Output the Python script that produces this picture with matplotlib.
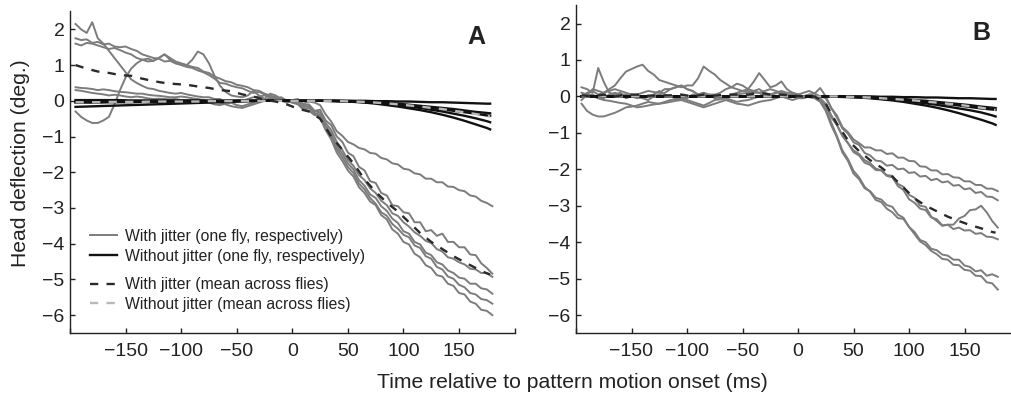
import matplotlib
matplotlib.use("Agg")
import matplotlib.pyplot as plt
from matplotlib.lines import Line2D

plt.rcParams['font.family'] = ['Liberation Sans', 'DejaVu Sans']

# ---------------- data ----------------
# single-fly traces sampled every 5 ms, smooth/mean curves every 10 ms
time_fine = list(range(-195, 181, 5))
time_coarse = list(range(-195, 176, 10)) + [178]

# Panel A: with jitter, one fly each
A_fly1 = [2.15, 2.0, 1.9, 2.2, 1.75, 1.6, 1.4, 1.2, 1.0, 0.8,
          0.6, 0.5, 0.42, 0.35, 0.33, 0.28, 0.25, 0.22, 0.2, 0.22,
          0.18, 0.15, 0.12, 0.1, 0.1, 0.05, 0.05, -0.05, -0.05, -0.12,
          -0.15, -0.1, -0.05, 0.05, 0.0, 0.08, 0.05, 0.1, 0.0, 0.02,
          0.0, -0.08, -0.02, -0.05, -0.12, -0.38, -0.58, -0.85, -0.98, -1.15,
          -1.22, -1.32, -1.36, -1.46, -1.48, -1.6, -1.64, -1.75, -1.78, -1.9,
          -1.93, -2.03, -2.06, -2.18, -2.18, -2.28, -2.28, -2.4, -2.41, -2.5,
          -2.53, -2.65, -2.68, -2.8, -2.86, -2.95]
A_fly2 = [1.75, 1.7, 1.72, 1.62, 1.65, 1.58, 1.6, 1.52, 1.5, 1.52,
          1.45, 1.4, 1.3, 1.25, 1.2, 1.18, 1.1, 1.12, 1.05, 1.02,
          1.0, 0.95, 0.92, 0.82, 0.78, 0.68, 0.62, 0.55, 0.52, 0.45,
          0.42, 0.38, 0.3, 0.28, 0.2, 0.15, 0.1, 0.08, 0.0, 0.02,
          0.05, -0.12, -0.1, -0.28, -0.25, -0.55, -0.68, -1.0, -1.15, -1.45,
          -1.55, -1.85, -1.95, -2.25, -2.3, -2.58, -2.65, -2.92, -2.95, -3.12,
          -3.15, -3.4, -3.4, -3.65, -3.62, -3.78, -3.72, -3.95, -3.95, -4.1,
          -4.1, -4.3, -4.32, -4.55, -4.68, -4.84]
A_fly3 = [1.6, 1.55, 1.62, 1.6, 1.55, 1.5, 1.45, 1.48, 1.42, 1.35,
          1.3, 1.2, 1.15, 1.1, 1.12, 1.2, 1.3, 1.15, 1.05, 1.0,
          0.95, 0.92, 0.85, 0.8, 0.72, 0.62, 0.5, 0.48, 0.42, 0.38,
          0.35, 0.28, 0.22, 0.25, 0.18, 0.1, 0.08, 0.0, -0.05, -0.02,
          -0.05, -0.18, -0.15, -0.3, -0.32, -0.62, -0.82, -1.15, -1.38, -1.65,
          -1.82, -2.08, -2.22, -2.45, -2.58, -2.8, -2.92, -3.15, -3.22, -3.4,
          -3.52, -3.68, -3.78, -3.92, -3.98, -4.15, -4.22, -4.38, -4.42, -4.52,
          -4.58, -4.7, -4.72, -4.82, -4.82, -4.93]
A_fly4 = [-0.3, -0.45, -0.55, -0.62, -0.62, -0.55, -0.45, -0.1, 0.3, 0.65,
          0.9, 1.05, 1.15, 1.18, 1.12, 1.2, 1.3, 1.2, 1.1, 1.05,
          1.0, 1.15, 1.38, 1.3, 1.05, 0.7, 0.42, 0.25, 0.15, 0.12,
          0.1, 0.15, 0.28, 0.15, 0.05, 0.2, 0.15, 0.05, 0.0, -0.05,
          -0.1, -0.25, -0.2, -0.35, -0.38, -0.7, -0.92, -1.28, -1.48, -1.75,
          -1.92, -2.22, -2.38, -2.62, -2.72, -2.95, -3.08, -3.3, -3.42, -3.65,
          -3.72, -3.95, -4.02, -4.25, -4.32, -4.52, -4.58, -4.75, -4.82, -4.95,
          -4.98, -5.12, -5.12, -5.25, -5.28, -5.4]
A_fly5 = [0.38, 0.36, 0.35, 0.33, 0.3, 0.32, 0.3, 0.27, 0.25, 0.24,
          0.22, 0.2, 0.2, 0.17, 0.15, 0.14, 0.12, 0.1, 0.1, 0.12,
          0.1, 0.07, 0.05, 0.02, 0.0, -0.02, -0.05, -0.1, -0.15, -0.18,
          -0.2, -0.15, -0.1, -0.05, 0.0, 0.05, 0.05, 0.02, 0.0, -0.05,
          -0.02, -0.22, -0.28, -0.4, -0.42, -0.72, -0.98, -1.35, -1.58, -1.85,
          -2.02, -2.32, -2.48, -2.72, -2.88, -3.12, -3.22, -3.45, -3.58, -3.75,
          -3.82, -4.05, -4.12, -4.35, -4.42, -4.65, -4.72, -4.92, -4.98, -5.15,
          -5.22, -5.38, -5.42, -5.55, -5.58, -5.68]
A_fly6 = [0.3, 0.28, 0.25, 0.22, 0.2, 0.18, 0.15, 0.17, 0.15, 0.12,
          0.1, 0.12, 0.1, 0.07, 0.05, 0.06, 0.05, 0.04, 0.05, 0.02,
          0.0, 0.0, 0.0, -0.03, -0.05, -0.1, -0.12, -0.08, -0.05, 0.0,
          0.0, 0.05, 0.1, 0.12, 0.15, 0.1, 0.05, 0.02, 0.0, 0.0,
          0.0, -0.12, -0.18, -0.35, -0.48, -0.82, -1.08, -1.45, -1.68, -1.95,
          -2.12, -2.42, -2.58, -2.82, -2.92, -3.2, -3.32, -3.6, -3.72, -3.95,
          -4.02, -4.28, -4.38, -4.6, -4.68, -4.88, -4.92, -5.12, -5.18, -5.38,
          -5.42, -5.62, -5.68, -5.85, -5.88, -6.0]

# Panel A: without jitter, one fly each (10 ms grid)
A_ctrl1 = [0.02, 0.02, 0.02, 0.02, 0.02, 0.01, 0.01, 0.01, 0.01, 0.01, 0.01, 0.01, 0.0, 0.0, 0.0, 0.0, 0.0, 0.0, 0.0, 0.0,
           0.0, 0.0, 0.0, 0.0, 0.0, 0.0, 0.0, -0.01, -0.01, -0.02, -0.02, -0.03, -0.04, -0.04, -0.05, -0.06, -0.07, -0.08, -0.08]
A_ctrl2 = [-0.03, -0.03, -0.03, -0.03, -0.02, -0.02, -0.02, -0.02, -0.02, -0.01, -0.01, -0.01, -0.01, -0.01, 0.0, 0.0, 0.0, 0.0, 0.0, 0.0,
           0.0, 0.0, 0.0, 0.0, 0.0, -0.01, -0.02, -0.04, -0.06, -0.08, -0.11, -0.14, -0.17, -0.2, -0.23, -0.27, -0.31, -0.34, -0.35]
A_ctrl3 = [-0.05, -0.05, -0.05, -0.04, -0.04, -0.04, -0.03, -0.03, -0.03, -0.02, -0.02, -0.02, -0.01, -0.01, -0.01, 0.0, 0.0, 0.0, 0.0, 0.0,
           0.0, 0.0, 0.0, 0.0, -0.01, -0.02, -0.03, -0.05, -0.07, -0.1, -0.13, -0.16, -0.2, -0.24, -0.28, -0.32, -0.36, -0.41, -0.42]
A_ctrl4 = [-0.01, -0.01, -0.01, -0.01, -0.01, -0.01, -0.01, -0.01, -0.01, -0.01, 0.0, 0.0, 0.0, 0.0, 0.0, 0.0, 0.0, 0.0, 0.0, 0.0,
           0.0, 0.0, 0.0, 0.0, -0.01, -0.02, -0.04, -0.06, -0.09, -0.12, -0.16, -0.2, -0.25, -0.3, -0.36, -0.42, -0.49, -0.57, -0.6]
A_ctrl5 = [-0.17, -0.16, -0.15, -0.14, -0.13, -0.12, -0.11, -0.1, -0.09, -0.08, -0.07, -0.06, -0.05, -0.04, -0.03, -0.02, -0.01, 0.0, 0.0, 0.0,
           0.0, 0.0, 0.0, -0.01, -0.02, -0.03, -0.05, -0.08, -0.12, -0.16, -0.21, -0.26, -0.32, -0.39, -0.47, -0.56, -0.66, -0.76, -0.8]
A_jitter_mean = [1.0, 0.9, 0.82, 0.78, 0.72, 0.7, 0.62, 0.55, 0.5, 0.47, 0.45, 0.4, 0.36, 0.3, 0.27, 0.18, 0.12, 0.03, -0.02, -0.1,
                 -0.22, -0.3, -0.5, -1.0, -1.37, -1.75, -2.2, -2.55, -2.85, -3.1, -3.4, -3.7, -3.95, -4.15, -4.35, -4.52, -4.68, -4.83, -4.86]
A_ctrl_mean = [-0.04, -0.04, -0.04, -0.03, -0.03, -0.03, -0.03, -0.02, -0.02, -0.02, -0.02, -0.02, -0.01, -0.01, -0.01, 0.0, 0.0, 0.0, 0.0, 0.0,
               0.0, 0.0, 0.0, 0.0, -0.01, -0.02, -0.03, -0.05, -0.07, -0.1, -0.13, -0.16, -0.2, -0.23, -0.28, -0.32, -0.37, -0.42, -0.44]

# Panel B: with jitter, one fly each
B_fly1 = [0.25, 0.2, 0.1, 0.78, 0.4, 0.1, 0.05, 0.1, -0.05, 0.0,
          0.05, 0.1, 0.15, 0.12, 0.1, 0.2, 0.2, 0.25, 0.3, 0.2,
          0.15, 0.05, 0.1, 0.0, 0.0, -0.05, -0.05, 0.05, 0.1, 0.15,
          0.2, 0.15, 0.1, 0.0, 0.05, 0.1, 0.1, 0.05, 0.0, 0.05,
          0.1, 0.15, 0.08, 0.23, 0.0, -0.32, -0.52, -0.84, -0.98, -1.18,
          -1.28, -1.4, -1.4, -1.48, -1.48, -1.58, -1.56, -1.68, -1.68, -1.77,
          -1.78, -1.92, -1.93, -2.03, -2.03, -2.14, -2.13, -2.22, -2.23, -2.33,
          -2.33, -2.43, -2.43, -2.53, -2.53, -2.6]
B_fly2 = [0.0, 0.1, 0.15, 0.05, 0.1, 0.2, 0.3, 0.5, 0.68, 0.75,
          0.82, 0.87, 0.7, 0.6, 0.45, 0.4, 0.35, 0.3, 0.25, 0.3,
          0.3, 0.5, 0.82, 0.7, 0.6, 0.45, 0.35, 0.25, 0.2, 0.15,
          0.15, 0.1, 0.1, 0.15, 0.2, 0.15, 0.1, 0.05, 0.05, 0.0,
          0.0, 0.05, 0.08, 0.0, -0.05, -0.32, -0.58, -0.88, -1.02, -1.26,
          -1.33, -1.55, -1.62, -1.76, -1.78, -1.9, -1.88, -2.0, -1.98, -2.1,
          -2.08, -2.2, -2.18, -2.3, -2.26, -2.36, -2.33, -2.45, -2.43, -2.55,
          -2.52, -2.65, -2.62, -2.75, -2.76, -2.85]
B_fly3 = [-0.1, 0.05, 0.2, 0.15, 0.1, 0.15, 0.2, 0.15, 0.1, 0.05,
          0.0, -0.05, -0.1, 0.0, 0.05, 0.1, 0.2, 0.25, 0.3, 0.2,
          0.15, 0.05, 0.0, 0.05, 0.05, 0.1, 0.2, 0.25, 0.35, 0.3,
          0.2, 0.4, 0.64, 0.45, 0.25, 0.3, 0.41, 0.2, 0.1, 0.05,
          0.0, 0.05, 0.0, -0.05, -0.2, -0.52, -0.78, -1.08, -1.28, -1.53,
          -1.62, -1.82, -1.88, -2.02, -2.03, -2.16, -2.18, -2.4, -2.48, -2.7,
          -2.78, -3.0, -3.03, -3.3, -3.42, -3.55, -3.52, -3.52, -3.35, -3.28,
          -3.12, -3.1, -3.0, -3.18, -3.42, -3.6]
B_fly4 = [-0.2, -0.4, -0.5, -0.55, -0.55, -0.5, -0.45, -0.38, -0.3, -0.28,
          -0.25, -0.2, -0.15, -0.18, -0.2, -0.15, -0.1, -0.08, -0.05, -0.1,
          -0.15, -0.2, -0.25, -0.18, -0.1, -0.08, -0.05, -0.1, -0.15, -0.12,
          -0.1, -0.05, 0.0, 0.02, 0.05, 0.02, 0.0, -0.05, -0.1, -0.05,
          -0.05, 0.0, 0.0, -0.1, -0.25, -0.58, -0.78, -1.08, -1.28, -1.48,
          -1.58, -1.75, -1.83, -1.98, -2.03, -2.18, -2.22, -2.46, -2.57, -2.82,
          -2.92, -3.08, -3.12, -3.32, -3.37, -3.54, -3.52, -3.64, -3.6, -3.68,
          -3.67, -3.77, -3.75, -3.85, -3.86, -3.92]
B_fly5 = [0.1, 0.05, 0.0, -0.05, -0.1, -0.12, -0.15, -0.18, -0.2, -0.25,
          -0.3, -0.28, -0.25, -0.22, -0.2, -0.18, -0.15, -0.12, -0.1, -0.15,
          -0.2, -0.25, -0.3, -0.25, -0.2, -0.15, -0.1, -0.15, -0.2, -0.22,
          -0.25, -0.2, -0.15, -0.12, -0.1, -0.05, 0.0, 0.05, 0.05, 0.02,
          0.0, 0.0, 0.0, -0.1, -0.35, -0.72, -1.08, -1.48, -1.72, -2.04,
          -2.22, -2.48, -2.62, -2.84, -2.9, -3.08, -3.18, -3.34, -3.36, -3.58,
          -3.72, -3.94, -4.0, -4.18, -4.22, -4.34, -4.37, -4.48, -4.48, -4.64,
          -4.68, -4.8, -4.77, -4.92, -4.88, -4.95]
B_fly6 = [0.0, 0.05, 0.05, -0.05, -0.05, 0.05, 0.1, 0.05, 0.05, 0.0,
          -0.05, -0.02, 0.0, 0.05, 0.15, 0.05, 0.0, -0.05, -0.1, -0.05,
          0.05, 0.05, 0.1, 0.05, -0.05, -0.02, 0.0, 0.02, 0.05, 0.08,
          0.1, 0.15, 0.2, 0.1, 0.05, 0.1, 0.15, 0.1, 0.1, 0.05,
          0.0, -0.02, -0.05, -0.15, -0.4, -0.8, -1.12, -1.54, -1.77, -2.12,
          -2.27, -2.52, -2.6, -2.78, -2.83, -2.98, -3.03, -3.24, -3.33, -3.58,
          -3.78, -3.98, -4.08, -4.24, -4.33, -4.46, -4.48, -4.62, -4.63, -4.76,
          -4.78, -4.92, -4.93, -5.1, -5.13, -5.3]

# Panel B: without jitter, one fly each (10 ms grid)
B_ctrl1 = [0.0] * 27 + [-0.01, -0.01, -0.02, -0.02, -0.03, -0.03, -0.04, -0.05, -0.05, -0.06, -0.07, -0.07]
B_ctrl2 = [0.0] * 25 + [-0.01, -0.02, -0.04, -0.05, -0.07, -0.1, -0.12, -0.15, -0.18, -0.21, -0.24, -0.28, -0.31, -0.32]
B_ctrl3 = [0.0] * 24 + [-0.01, -0.02, -0.03, -0.05, -0.07, -0.09, -0.12, -0.15, -0.18, -0.21, -0.25, -0.29, -0.33, -0.36, -0.37]
B_ctrl4 = [0.0] * 24 + [-0.01, -0.02, -0.04, -0.06, -0.09, -0.12, -0.15, -0.19, -0.23, -0.28, -0.33, -0.38, -0.44, -0.52, -0.55]
B_ctrl5 = [0.0] * 23 + [-0.01, -0.02, -0.03, -0.05, -0.08, -0.11, -0.15, -0.2, -0.25, -0.31, -0.38, -0.46, -0.55, -0.64, -0.74, -0.78]
B_jitter_mean = [0.03, 0.0, 0.05, 0.0, 0.05, 0.05, 0.02, 0.02, 0.03, 0.05, 0.0, 0.05, 0.02, 0.05, 0.05, 0.05, 0.1, 0.05, 0.05, 0.02,
                 0.0, 0.0, -0.2, -0.75, -1.2, -1.5, -1.75, -1.95, -2.2, -2.5, -2.8, -3.0, -3.15, -3.3, -3.42, -3.53, -3.62, -3.72, -3.74]
B_ctrl_mean = [0.0] * 24 + [-0.01, -0.02, -0.03, -0.05, -0.07, -0.09, -0.11, -0.14, -0.17, -0.2, -0.23, -0.27, -0.31, -0.36, -0.37]

x_ticks = [-200, -150, -100, -50, 0, 50, 100, 150, 200]
x_ticklabels = ['', '\u2212150', '\u2212100', '\u221250', '0', '50', '100', '150', '']
y_ticks = [-6, -5, -4, -3, -2, -1, 0, 1, 2]
y_ticklabels = ['\u22126', '\u22125', '\u22124', '\u22123', '\u22122', '\u22121', '0', '1', '2']

legend_labels = ["With jitter (one fly, respectively)", "Without jitter (one fly, respectively)",
                 "With jitter (mean across flies)", "Without jitter (mean across flies)"]
xlabel = 'Time relative to pattern motion onset (ms)'
ylabel = 'Head deflection (deg.)'

# ---------------- styles ----------------
GRAY = '#7c7c7c'
BLACK = '#111111'
DASH_DARK = '#2a2a2a'
DASH_LIGHT = '#b8b8b8'
TXT = '#222222'
W, H = 1011, 398

fig = plt.figure(figsize=(W / 100, H / 100), dpi=100)
axA = fig.add_axes([70 / W, 1 - 333 / H, 444.6 / W, 321.5 / H])
axB = fig.add_axes([576 / W, 1 - 333.3 / H, 444.0 / W, 328.0 / H])


def draw(ax, flies, ctrls, jmean, cmean, letter, lx, ly):
    for tr in flies:
        ax.plot(time_fine, tr, color=GRAY, lw=1.4, solid_joinstyle='round')
    for tr in ctrls:
        ax.plot(time_coarse, tr, color=BLACK, lw=1.7)
    ax.plot(time_coarse, cmean, color=DASH_LIGHT, lw=1.7, dashes=(3.5, 3.5))
    ax.plot(time_coarse, jmean, color=DASH_DARK, lw=1.7, dashes=(3.5, 3.5))
    ax.set_xlim(-200, 200)
    ax.set_ylim(-6.5, 2.5)
    ax.set_xticks(x_ticks)
    ax.set_xticklabels(x_ticklabels)
    ax.set_yticks(y_ticks)
    ax.set_yticklabels(y_ticklabels)
    for s in ('top', 'right'):
        ax.spines[s].set_visible(False)
    for s in ('left', 'bottom'):
        ax.spines[s].set_linewidth(1.0)
        ax.spines[s].set_color(TXT)
    ax.tick_params(direction='in', length=3.5, width=1.0, labelsize=14, colors=TXT)
    ax.tick_params(axis='x', pad=7)
    ax.tick_params(axis='y', pad=4)
    ax.text(lx, ly, letter, transform=ax.transAxes, fontsize=18, fontweight='bold',
            ha='center', va='center', color=TXT)


draw(axA, [A_fly1, A_fly2, A_fly3, A_fly4, A_fly5, A_fly6],
     [A_ctrl1, A_ctrl2, A_ctrl3, A_ctrl4, A_ctrl5], A_jitter_mean, A_ctrl_mean, 'A', 0.913, 0.92)
draw(axB, [B_fly1, B_fly2, B_fly3, B_fly4, B_fly5, B_fly6],
     [B_ctrl1, B_ctrl2, B_ctrl3, B_ctrl4, B_ctrl5], B_jitter_mean, B_ctrl_mean, 'B', 0.912, 0.915)

h1 = [Line2D([], [], color=GRAY, lw=1.4), Line2D([], [], color=BLACK, lw=1.7)]
h2 = [Line2D([], [], color=DASH_DARK, lw=1.7, dashes=(3.5, 3.5)),
      Line2D([], [], color=DASH_LIGHT, lw=1.7, dashes=(3.5, 3.5))]
leg_kw = dict(loc='upper left', frameon=False, fontsize=11.3, handlelength=1.75,
              handletextpad=0.45, labelspacing=0.3, borderaxespad=0, borderpad=0)
leg1 = axA.legend(h1, legend_labels[:2], bbox_to_anchor=(0.045, 0.324), **leg_kw)
for t in leg1.get_texts():
    t.set_color(TXT)
axA.add_artist(leg1)
leg2 = axA.legend(h2, legend_labels[2:], bbox_to_anchor=(0.045, 0.174), **leg_kw)
for t in leg2.get_texts():
    t.set_color(TXT)

fig.text(572 / W, 1 - 383 / H, xlabel, fontsize=15.2, ha='center', va='center', color=TXT)
fig.text(21 / W, 1 - 163 / H, ylabel, fontsize=15.2, rotation=90, ha='center', va='center', color=TXT)

fig.savefig('out.png', dpi=100)
